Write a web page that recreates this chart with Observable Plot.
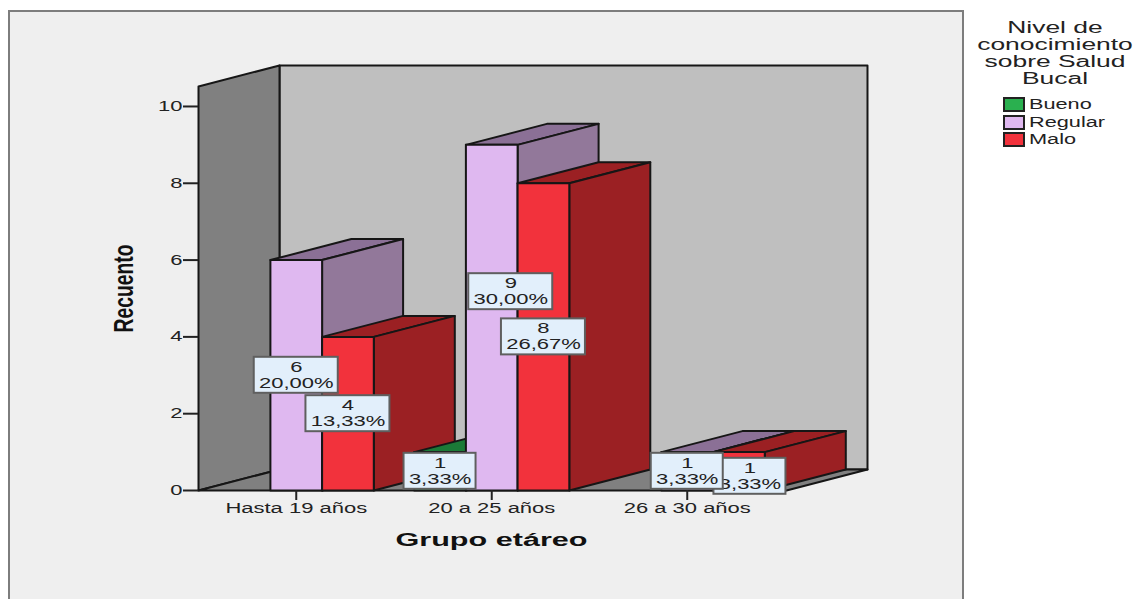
<!DOCTYPE html>
<html>
<head>
<meta charset="utf-8">
<script src="https://cdn.jsdelivr.net/npm/d3@7"></script>
<script src="https://cdn.jsdelivr.net/npm/@observablehq/plot@0.6"></script>
<style>
  html, body { margin: 0; padding: 0; width: 1140px; height: 599px; overflow: hidden; background: #fff; }
  #panel { position: absolute; left: 8px; top: 10px; width: 952px; height: 700px; background: #efefef; border: 2px solid #7d7d7d; }
  #chart { position: absolute; left: 0; top: 0; }
  #legend { position: absolute; left: 963px; top: 0; width: 177px; font-family: "Liberation Sans", Arial, sans-serif; color: #222; }
  #legend .t { position: absolute; left: 92px; width: 0; display: flex; justify-content: center; white-space: nowrap; font-size: 16px; line-height: 17px; transform: scaleX(1.65); }
  #legend .k { position: absolute; left: 40px; width: 18px; height: 11px; border: 2px solid #222; }
  #legend .n { position: absolute; left: 66px; font-size: 14px; line-height: 16px; white-space: nowrap; transform: scaleX(1.55); transform-origin: left center; }
</style>
</head>
<body>
<div id="panel"></div>
<div id="chart"></div>
<div id="legend"></div>
<script>
// Counts per age group and knowledge level
const groups = ["Hasta 19 años", "20 a 25 años", "26 a 30 años"];
const levels = ["Bueno", "Regular", "Malo"];
const bueno = [0, 1, 0];
const regular = [6, 9, 1];
const malo = [4, 8, 1];
const yTicks = [0, 2, 4, 6, 8, 10];
const titleLines = ["Nivel de", "conocimiento", "sobre Salud", "Bucal"];

const counts = {Bueno: bueno, Regular: regular, Malo: malo};
const total = d3.sum(levels, (l) => d3.sum(counts[l]));

// Face colours for each level
const faceColors = {
  Bueno: {front: "#2ab04f", side: "#1b7a37", top: "#1b7a37"},
  Regular: {front: "#dfb8f0", side: "#92789a", top: "#8b7096"},
  Malo: {front: "#f2323c", side: "#9b2023", top: "#9b2023"}
};

// Oblique projection of the box depth, in scale units
const pxX = 195.5;              // pixels per age group
const pxY = 38.4;               // pixels per count
const barW = 51.7 / pxX;
const depthX = 81 / pxX;
const depthY = 21 / pxY;
const xMin = -0.5, xMax = 2.5077, yMax = 10.52;

let pid = 0;
const poly = (pts, color) => {
  const id = pid++;
  return [...pts, pts[0]].map(([x, y]) => ({x, y, id, color}));
};

// Walls and floor of the chart box
const shell = [
  ...poly([[xMin + depthX, depthY], [xMax + depthX, depthY], [xMax + depthX, yMax + depthY], [xMin + depthX, yMax + depthY]], "#bfbfbf"),
  ...poly([[xMin, 0], [xMin + depthX, depthY], [xMin + depthX, yMax + depthY], [xMin, yMax]], "#808080"),
  ...poly([[xMin, 0], [xMin + depthX, depthY], [xMax + depthX, depthY], [xMax, 0]], "#808080")
];

// Boxes, painted from the left group to the right one so nearer faces cover farther ones
const boxes = [];
groups.forEach((g, gi) => {
  levels.forEach((l, li) => {
    const v = counts[l][gi];
    if (!v) return;
    const x0 = gi + (li - 1.5) * barW, x1 = x0 + barW;
    const c = faceColors[l];
    boxes.push(...poly([[x0, v], [x1, v], [x1 + depthX, v + depthY], [x0 + depthX, v + depthY]], c.top));
    boxes.push(...poly([[x1, 0], [x1 + depthX, depthY], [x1 + depthX, v + depthY], [x1, v]], c.side));
    boxes.push(...poly([[x0, 0], [x1, 0], [x1, v], [x0, v]], c.front));
  });
});

const pct = (v) => (v / total * 100).toFixed(2).replace(".", ",") + "%";

// Two labels are pushed aside so they do not sit on top of one another (pixels)
const nudge = {"Regular|1": [19, -26], "Malo|2": [11, 5]};

const labelMarks = [];
[...levels].reverse().forEach((l) => {
  groups.forEach((g, gi) => {
    const v = counts[l][gi];
    if (!v) return;
    const li = levels.indexOf(l);
    const cx = gi + (li - 1) * barW;
    const cy = v / 2;
    const [dx, dy] = nudge[l + "|" + gi] || [0, 0];
    const text = pct(v);
    const hw = (text.length > 5 ? 42 : 36) / pxX;
    const hh = 18 / pxY;
    const d = [{cx, cy, v, text}];
    labelMarks.push(
      Plot.rect(d, {x1: () => cx - hw, x2: () => cx + hw, y1: () => cy - hh, y2: () => cy + hh, dx, dy, fill: "#e2effb", stroke: "#5f5f5f", strokeWidth: 2}),
      Plot.text(d, {x: "cx", y: "cy", text: "v", dx, dy: dy - 8, fontSize: 14, fill: "#222"}),
      Plot.text(d, {x: "cx", y: "cy", text: "text", dx, dy: dy + 8, fontSize: 14, fill: "#222"})
    );
  });
});

const chart = Plot.plot({
  width: 1140,
  height: 599,
  marginLeft: 198,
  marginRight: 354,
  marginTop: 86,
  marginBottom: 109,
  style: {background: "transparent", fontFamily: "'Liberation Sans', Arial, sans-serif", fontSize: "14px", color: "#222", overflow: "visible"},
  x: {type: "linear", domain: [xMin, xMax]},
  y: {type: "linear", domain: [0, yMax]},
  color: {type: "identity"},
  marks: [
    Plot.line(shell, {x: "x", y: "y", z: "id", fill: "color", stroke: "#161616", strokeWidth: 2}),
    Plot.line(boxes, {x: "x", y: "y", z: "id", fill: "color", stroke: "#161616", strokeWidth: 2}),
    Plot.axisY({ticks: yTicks, tickSize: 15, tickPadding: 1, label: null, strokeWidth: 2, tickFormat: (d) => d}),
    Plot.axisX({ticks: [0, 1, 2], tickSize: 10, tickPadding: 3, label: null, strokeWidth: 2, tickFormat: (i) => groups[i]}),
    Plot.text(["Grupo etáreo"], {frameAnchor: "bottom", dx: -1, dy: 55, fontSize: 18, fontWeight: "bold", fill: "#111"}),
    Plot.text(["Recuento"], {frameAnchor: "left", textAnchor: "middle", rotate: -90, dx: -74, fontSize: 27, fontWeight: "bold", fill: "#111"}),
    ...labelMarks
  ]
});
document.getElementById("chart").append(chart);

// The chart's lettering is horizontally wide; widen each text run to suit
chart.querySelectorAll("text").forEach((t) => {
  const s = t.textContent;
  const w = t.getComputedTextLength();
  const target = s === "Recuento" ? 88 : s === "Grupo etáreo" ? 192 : w * 1.57;
  t.setAttribute("textLength", target);
  t.setAttribute("lengthAdjust", "spacingAndGlyphs");
});

// Legend
const legend = d3.select("#legend");
titleLines.forEach((line, i) => {
  legend.append("div").attr("class", "t").style("top", `${19 + i * 17}px`).text(line);
});
levels.forEach((l, i) => {
  legend.append("div").attr("class", "k").style("top", `${97 + i * 17.5}px`).style("background", faceColors[l].front);
  legend.append("div").attr("class", "n").style("top", `${96 + i * 17.5}px`).text(l);
});
</script>
</body>
</html>
